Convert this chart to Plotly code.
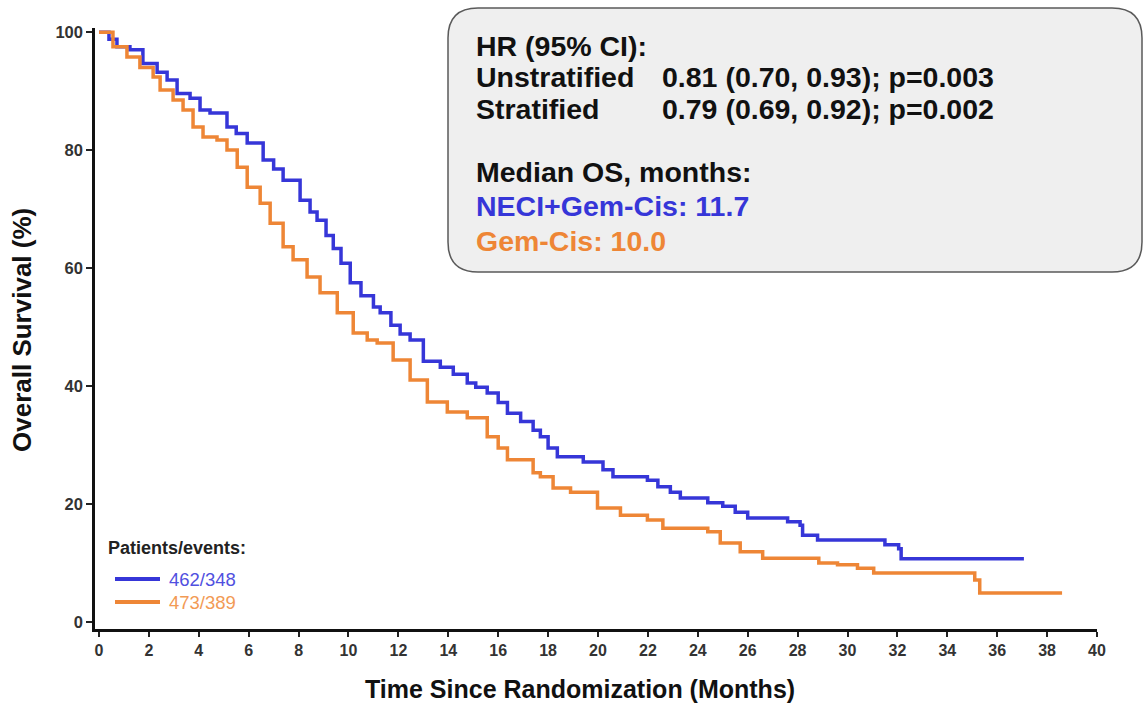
import plotly.graph_objects as go

# ---- data ----
neci_t = [0, 0.4, 0.72, 1.24, 1.76, 2.33, 2.73, 3.13, 3.65, 4.05, 4.45, 5.13, 5.5, 5.94, 6.58, 7.0,
          7.38, 8.06, 8.46, 8.74, 9.1, 9.39, 9.7, 10.07, 10.5, 11.0, 11.27, 11.7, 12.07, 12.47, 13.0,
          13.68, 14.2, 14.76, 15.1, 15.56, 16.0, 16.37, 16.9, 17.4, 17.69, 18.0, 18.37, 19.41, 20.2,
          20.6, 21.98, 22.4, 22.9, 23.3, 24.4, 25.0, 25.5, 26.0, 27.6, 28.1, 28.2, 28.8, 31.5, 32.05,
          32.15, 37.07]
neci_s = [100, 98.8, 97.5, 97.0, 94.7, 93.2, 91.9, 89.6, 88.8, 86.8, 86.3, 83.9, 82.8, 81.2, 78.3, 76.8,
          74.9, 71.5, 69.5, 68.1, 65.5, 63.3, 60.8, 57.5, 55.3, 53.4, 52.4, 50.3, 48.8, 47.8, 44.2,
          43.2, 42.0, 40.5, 39.8, 38.8, 37.2, 35.4, 34.0, 32.5, 31.4, 29.5, 28.0, 27.1, 25.8,
          24.6, 24.0, 22.9, 22.0, 21.0, 20.2, 19.6, 18.6, 17.6, 17.0, 16.4, 14.7, 13.9, 13.1, 12.4,
          10.7, 10.7]

gc_t = [0, 0.56, 1.12, 1.64, 2.17, 2.45, 2.97, 3.37, 3.77, 4.17, 4.73, 5.13, 5.54, 5.94, 6.46, 6.86,
        7.38, 7.78, 8.34, 8.86, 9.55, 10.19, 10.75, 11.15, 11.79, 12.47, 13.16, 13.96, 14.76, 15.56,
        16.0, 16.37, 17.4, 17.69, 18.2, 18.9, 19.98, 20.9, 21.98, 22.6, 24.4, 24.9, 25.7, 26.6, 28.85,
        29.6, 30.4, 31.05, 35.1, 35.3, 38.6]
gc_s = [100, 97.5, 95.8, 94.0, 92.4, 90.2, 88.5, 86.8, 83.9, 82.2, 81.7, 80.0, 77.1, 73.7, 71.0, 67.6,
        63.6, 61.4, 58.5, 55.8, 52.4, 49.0, 47.8, 47.3, 44.4, 41.0, 37.3, 35.6, 34.6, 31.4,
        29.5, 27.5, 25.3, 24.6, 22.7, 22.0, 19.3, 18.1, 17.3, 15.9, 15.3, 13.4, 11.9, 10.8, 10.0,
        9.7, 9.1, 8.3, 7.1, 4.9, 4.9]

x_ticks = list(range(0, 41, 2))
y_ticks = [0, 20, 40, 60, 80, 100]

legend_labels = ["462/348", "473/389"]
box_labels = ["HR (95% CI):", "Unstratified", "Stratified", "Median OS, months:"]
box_values = ["0.81 (0.70, 0.93); p=0.003", "0.79 (0.69, 0.92); p=0.002"]
median_labels = ["NECI+Gem-Cis: 11.7", "Gem-Cis: 10.0"]

BLUE = "#3636d8"
ORANGE = "#ee8636"
BLUE_TXT = "#5050e0"
ORANGE_TXT = "#f29a55"
FONT = "Liberation Sans"

W, H = 1145, 705
# plot-area edges in page pixels
L, R, T, B = 95, 1097, 28, 629


def px(xp):
    return (xp - L) / (R - L)


def py(yp):
    return (B - yp) / (B - T)


fig = go.Figure()
fig.add_trace(go.Scatter(x=neci_t, y=neci_s, mode="lines", line=dict(color=BLUE, width=3.5, shape="hv"),
                         name="NECI+Gem-Cis", showlegend=False))
fig.add_trace(go.Scatter(x=gc_t, y=gc_s, mode="lines", line=dict(color=ORANGE, width=3.5, shape="hv"),
                         name="Gem-Cis", showlegend=False))

# rounded info box
x0, x1, y0, y1, r = 448, 1142, 8, 272, 30
path = (f"M {px(x0 + r)} {py(y0)} L {px(x1 - r)} {py(y0)} Q {px(x1)} {py(y0)} {px(x1)} {py(y0 + r)} "
        f"L {px(x1)} {py(y1 - r)} Q {px(x1)} {py(y1)} {px(x1 - r)} {py(y1)} "
        f"L {px(x0 + r)} {py(y1)} Q {px(x0)} {py(y1)} {px(x0)} {py(y1 - r)} "
        f"L {px(x0)} {py(y0 + r)} Q {px(x0)} {py(y0)} {px(x0 + r)} {py(y0)} Z")
shapes = [dict(type="path", xref="paper", yref="paper", path=path,
               fillcolor="#efefef", line=dict(color="#5a5a5a", width=1.5), layer="below")]

# legend sample lines
for yy, col in [(579, BLUE), (602, ORANGE)]:
    shapes.append(dict(type="line", xref="paper", yref="paper", x0=px(115), x1=px(160), y0=py(yy), y1=py(yy),
                       line=dict(color=col, width=4)))

ann = []


def add_text(text, xp, yp, size, color="#111", bold=True, xanchor="left", angle=0):
    ann.append(dict(text=f"<b>{text}</b>" if bold else text, x=px(xp), y=py(yp), xref="paper", yref="paper",
                    xanchor=xanchor, yanchor="middle", showarrow=False, textangle=angle,
                    font=dict(family=FONT, size=size, color=color)))


bs = 28.5
add_text(box_labels[0], 474, 46, bs)
add_text(box_labels[1], 474, 77, bs)
add_text(box_labels[2], 474, 109, bs)
add_text(box_values[0], 660, 77, bs)
add_text(box_values[1], 660, 109, bs)
add_text(box_labels[3], 474, 172, bs)
add_text(median_labels[0], 474, 206, bs, color=BLUE)
add_text(median_labels[1], 474, 241, bs, color=ORANGE)

add_text("Patients/events:", 106, 548, 18, color="#222")
add_text(legend_labels[0], 167, 579, 18.5, color=BLUE_TXT, bold=False)
add_text(legend_labels[1], 167, 602, 18.5, color=ORANGE_TXT, bold=False)

add_text("Time Since Randomization (Months)", 580, 689, 25, color="#111", xanchor="center")
add_text("Overall Survival (%)", 22, 330, 26, color="#111", xanchor="center", angle=-90)

fig.update_layout(
    width=W, height=H,
    margin=dict(l=L, r=W - R, t=T, b=H - B),
    paper_bgcolor="white", plot_bgcolor="white",
    shapes=shapes, annotations=ann,
    font=dict(family=FONT),
)
fig.update_xaxes(range=[-0.16, 40], tickvals=x_ticks, ticktext=[f"<b>{v}</b>" for v in x_ticks],
                 ticks="outside", ticklen=5, tickwidth=1.5,
                 tickcolor="#222", showline=True, linecolor="#111", linewidth=3, showgrid=False,
                 zeroline=False, tickfont=dict(family=FONT, size=16, color="#333"))
fig.update_yaxes(range=[-1.2, 100.7], tickvals=y_ticks, ticktext=[f"<b>{v}</b>" for v in y_ticks],
                 ticks="outside", ticklen=6, tickwidth=1.5,
                 tickcolor="#222", showline=True, linecolor="#111", linewidth=2.5, showgrid=False,
                 zeroline=False, tickfont=dict(family=FONT, size=16.5, color="#333"))

fig.write_html("out.html", config={"displayModeBar": False},
               post_script="document.body.style.margin='0';document.body.style.overflow='hidden';")
